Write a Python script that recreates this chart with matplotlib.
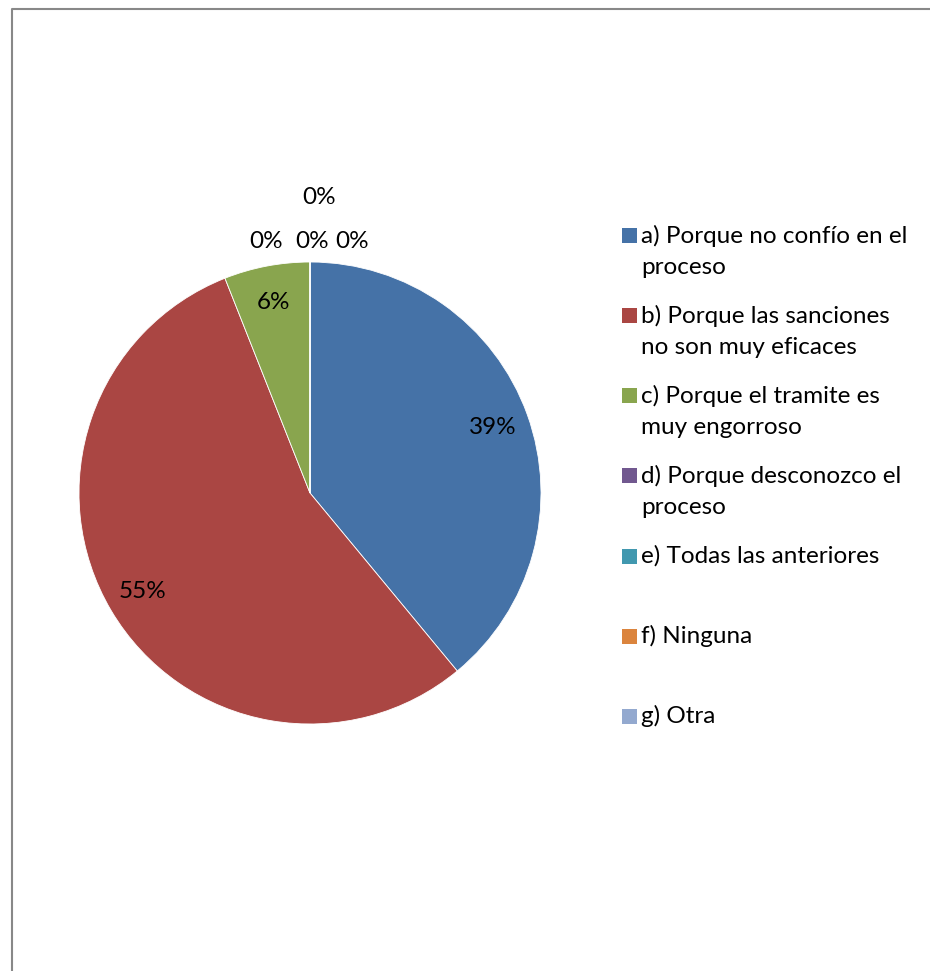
import matplotlib.pyplot as plt
from matplotlib.lines import Line2D
from matplotlib.patches import Rectangle
import numpy as np

plt.rcParams['font.family'] = ['Lato', 'DejaVu Sans']

categories = [
    "a) Porque no confío en el\nproceso",
    "b) Porque las sanciones\nno son muy eficaces",
    "c) Porque el tramite es\nmuy engorroso",
    "d) Porque desconozco el\nproceso",
    "e) Todas las anteriores",
    "f) Ninguna",
    "g) Otra",
]
shares = [39, 55, 6, 0, 0, 0, 0]
colors = ["#4572A7", "#AA4643", "#89A54E", "#71588F", "#4198AF", "#DB843D", "#93A9CF"]

W, H = 930, 971
fig = plt.figure(figsize=(W / 100, H / 100), dpi=100)
fig.patch.set_facecolor("white")

# pie centre and radius in pixels
cx, cy, R = 310, 493, 231
ax = fig.add_axes([(cx - R) / W, (H - cy - R) / H, 2 * R / W, 2 * R / H])
wedges, _ = ax.pie(shares, colors=colors, startangle=90, counterclock=False,
                   radius=1, wedgeprops=dict(edgecolor="white", linewidth=0.6))
ax.set_xlim(-1, 1)
ax.set_ylim(-1, 1)
ax.axis("off")

total = sum(shares)
fs = 17.5
zero_offsets = [(-0.19, 1.09), (0.01, 1.09), (0.18, 1.09), (0.04, 1.28)]
zi = 0
for w, c in zip(wedges, shares):
    pct = 100 * c / total
    if c > 0:
        mid = np.deg2rad((w.theta1 + w.theta2) / 2)
        r = 0.84
        ax.text(r * np.cos(mid), r * np.sin(mid), f"{pct:.0f}%", ha="center",
                va="center", fontsize=fs, color="black", clip_on=False)
    else:
        x, y = zero_offsets[zi]
        zi += 1
        ax.text(x, y, f"{pct:.0f}%", ha="center", va="center", fontsize=fs,
                color="black", clip_on=False)

# legend drawn by hand so every entry gets the same slot height
top = 236
for i, (lab, col) in enumerate(zip(categories, colors)):
    y = top + 80 * i
    fig.patches.append(Rectangle((622 / W, 1 - (y + 7.5) / H), 15 / W, 15 / H,
                                 transform=fig.transFigure, facecolor=col,
                                 edgecolor="none"))
    fig.text(641 / W, 1 - (y - 11) / H, lab, ha="left", va="top", fontsize=fs,
             linespacing=1.56)

# chart frame (only top and left edges fall inside the image)
fig.add_artist(Line2D([11.5 / W, 11.5 / W, 1], [0, 1 - 9.5 / H, 1 - 9.5 / H],
                      transform=fig.transFigure, color="#888888", linewidth=1.5))

fig.savefig("out.png", dpi=100)
